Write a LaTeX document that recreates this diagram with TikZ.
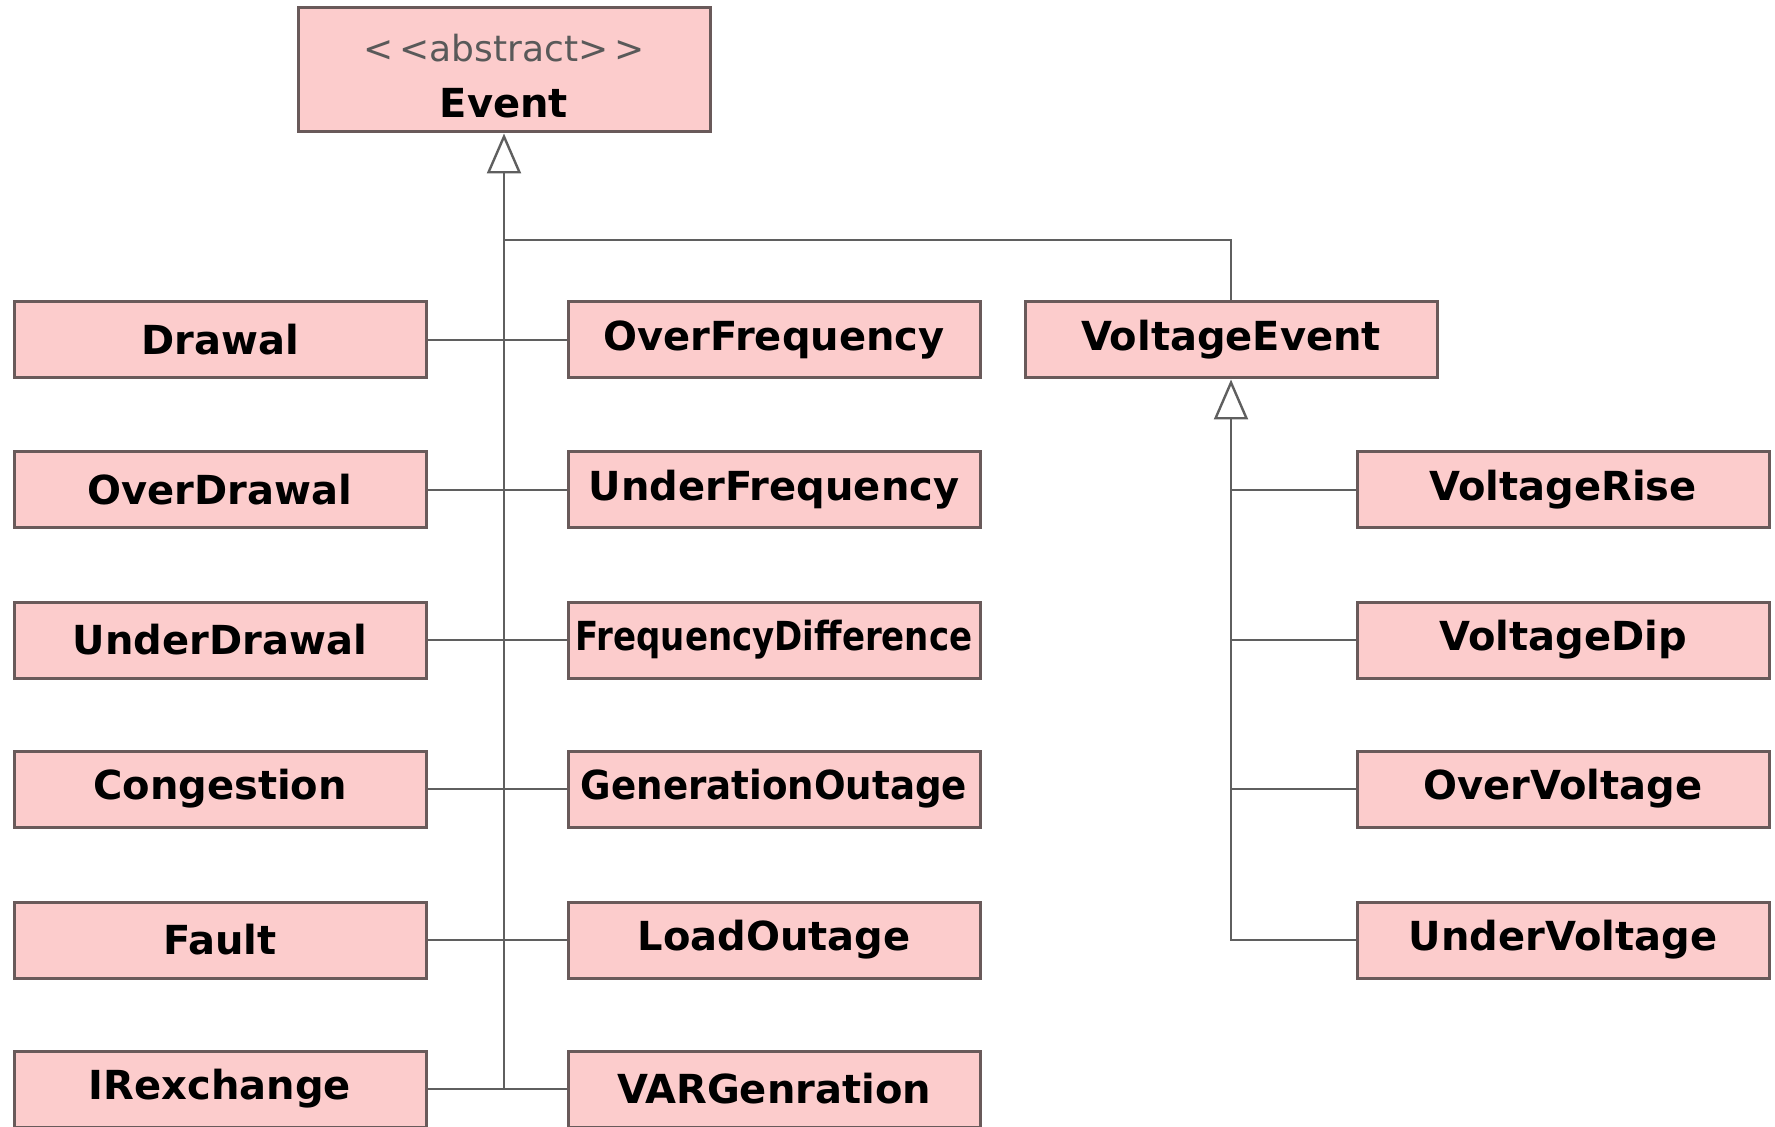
\documentclass[tikz,border=0pt]{standalone}
\usepackage{fontspec}
\setmainfont{DejaVu Sans}
\newfontfamily\narrowfont{DejaVu Sans}[FakeStretch=0.85]
\newfontfamily\semifont{DejaVu Sans}[FakeStretch=0.93]
\usetikzlibrary{arrows.meta}
\usetikzlibrary{positioning}
\definecolor{boxfill}{RGB}{252,204,204}
\definecolor{boxline}{RGB}{105,90,90}
\definecolor{wire}{RGB}{95,95,95}
\tikzset{
  cls/.style={rectangle, draw=boxline, fill=boxfill, line width=1.5pt, minimum width=206pt, minimum height=38pt, inner sep=2pt, font=\bfseries\fontsize{20}{24}\selectfont},
  absclass/.style={cls, minimum height=62pt, align=center},
  link/.style = {wire, line width=1.2pt},
  inherit/.style = {wire, line width=1.2pt, -{Triangle[open, length=20pt, width=17pt, fill=white]}},
}

\begin{document}
\begin{tikzpicture}[x=0.5pt, y=-0.5pt]
\useasboundingbox (0,0) rectangle (1775,1127);

\node[absclass] (event) at (504,70) {{\mdseries\color{black!65}\fontsize{18}{20}\selectfont\rule{0pt}{20pt}{<}\,{<}abstract{>}\,{>}}\\[4pt]Event};

\node[cls] (drawal) at (220,340) {Drawal};
\node[cls] (overdrawal) at (220,490) {OverDrawal};
\node[cls] (underdrawal) at (220,640) {UnderDrawal};
\node[cls] (congestion) at (220,789) {Congestion};
\node[cls] (fault) at (220,940) {Fault};
\node[cls] (irexchange) at (220,1089) {IRexchange};

\node[cls] (overfreq) at (774,340) {OverFrequency};
\node[cls] (underfreq) at (774,490) {UnderFrequency};
\node[cls, font=\narrowfont\bfseries\fontsize{20}{24}\selectfont] (freqdiff) at (774,640) {FrequencyDifference};
\node[cls, font=\semifont\bfseries\fontsize{20}{24}\selectfont] (genoutage) at (774,789) {GenerationOutage};
\node[cls] (loadoutage) at (774,940) {LoadOutage};
\node[cls] (vargen) at (774,1089) {VARGenration};

\node[cls] (voltevent) at (1231,340) {VoltageEvent};

\node[cls] (voltrise) at (1563,490) {VoltageRise};
\node[cls] (voltdip) at (1563,640) {VoltageDip};
\node[cls] (overvolt) at (1563,789) {OverVoltage};
\node[cls] (undervolt) at (1563,940) {UnderVoltage};

% subclasses of Event
\draw (drawal) edge[link] (overfreq);
\draw (overdrawal) edge[link] (underfreq);
\draw (underdrawal) edge[link] (freqdiff);
\draw (congestion) edge[link] (genoutage);
\draw (fault) edge[link] (loadoutage);
\draw (irexchange) edge[link] (vargen);
\draw[inherit] (irexchange.east -| event.south) -- (event.south);
\coordinate (branch) at (504,240);
\draw[link] (branch) -| (voltevent.north);

% subclasses of VoltageEvent
\draw[inherit] (undervolt.west) -| (voltevent.south);
\draw[link] (voltrise.west) -- (voltrise.west -| voltevent.south);
\draw[link] (voltdip.west) -- (voltdip.west -| voltevent.south);
\draw[link] (overvolt.west) -- (overvolt.west -| voltevent.south);

\end{tikzpicture}
\end{document}
